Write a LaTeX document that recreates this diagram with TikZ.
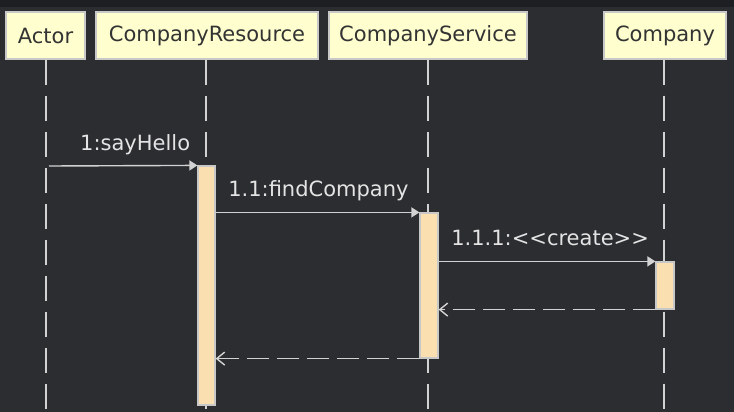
\documentclass[tikz,border=0pt]{standalone}
\usepackage{fontspec}
\setmainfont{DejaVu Sans}
\usetikzlibrary{positioning,arrows.meta}
\definecolor{bg}{HTML}{2B2D30}
\definecolor{topbar}{HTML}{1E1F22}
\definecolor{boxfill}{HTML}{FEFECE}
\definecolor{boxline}{HTML}{C8C8C8}
\definecolor{barfill}{HTML}{FAE0B0}
\definecolor{wire}{HTML}{D2D2D2}
\definecolor{msgtext}{HTML}{E4E4E4}
\begin{document}
\begin{tikzpicture}[x=1pt,y=-1pt,
    part/.style={draw=boxline,fill=boxfill,line width=1.4pt,text=black!80,
      font=\fontsize{21}{24}\selectfont,minimum height=47pt,inner sep=0pt},
    bar/.style={draw=boxline,fill=barfill,line width=1.2pt,minimum width=17pt,inner sep=0pt},
    lifeline/.style={wire,line width=1.4pt,dash pattern=on 25pt off 11pt},
    call/.style={wire,line width=1.4pt,-{Triangle[length=8pt,width=10pt]}},
    reply/.style={wire,line width=1.4pt,dash pattern=on 22pt off 8pt,
      -{Straight Barb[length=8pt,width=13pt,line width=1.4pt]}},
    msglabel/.style={text=msgtext,font=\fontsize{21}{24}\selectfont,anchor=base west,inner sep=0pt}]

    \useasboundingbox (0,0) rectangle (734,412);
    \fill[bg] (0,0) rectangle (734,412);
    \fill[topbar] (0,0) rectangle (734,7);

    % participants
    \node[part,minimum width=79pt] (actor) at (45.5,35.5) {Actor};
    \node[part,minimum width=222pt] (resource) at (207,35.5) {CompanyResource};
    \node[part,minimum width=198pt] (service) at (428,35.5) {CompanyService};
    \node[part,minimum width=122pt] (company) at (665,35.5) {Company};

    % lifelines
    \coordinate (actorend) at (46,412);
    \coordinate (resourceend) at (206,412);
    \coordinate (serviceend) at (428,412);
    \coordinate (companyend) at (664,412);
    \draw[lifeline] (actorend |- actor.south) -- (actorend);
    \draw[lifeline] (resourceend |- resource.south) -- (resourceend);
    \draw[lifeline] (serviceend |- service.south) -- (serviceend);
    \draw[lifeline] (companyend |- company.south) -- (companyend);

    % activations
    \node[bar,minimum height=239pt] (resbar) at (206.5,285.5) {};
    \node[bar,minimum width=18pt,minimum height=145pt] (svbar) at (429,285.5) {};
    \node[bar,minimum width=18pt,minimum height=47pt] (cobar) at (665,285.5) {};

    % messages
    \coordinate (hellostart) at (49,166);
    \draw[call] (hellostart) -- (resbar.north west);
    \node[msglabel] (hello) at (80,150) {1:sayHello};
    \draw[call] (resbar.east |- svbar.north) -- (svbar.north west)
      node[msglabel,pos=0,xshift=12pt,yshift=16pt] (find) {1.1:findCompany};
    \draw[call] (svbar.east |- cobar.north) -- (cobar.north west)
      node[msglabel,pos=0,xshift=12pt,yshift=16pt] (create) {1.1.1:<{}<create>{}>};
    \draw[reply] (cobar.south west) -- (svbar.east |- cobar.south);
    \draw[reply] (svbar.south west) -- (resbar.east |- svbar.south);

  \end{tikzpicture}
\end{document}
